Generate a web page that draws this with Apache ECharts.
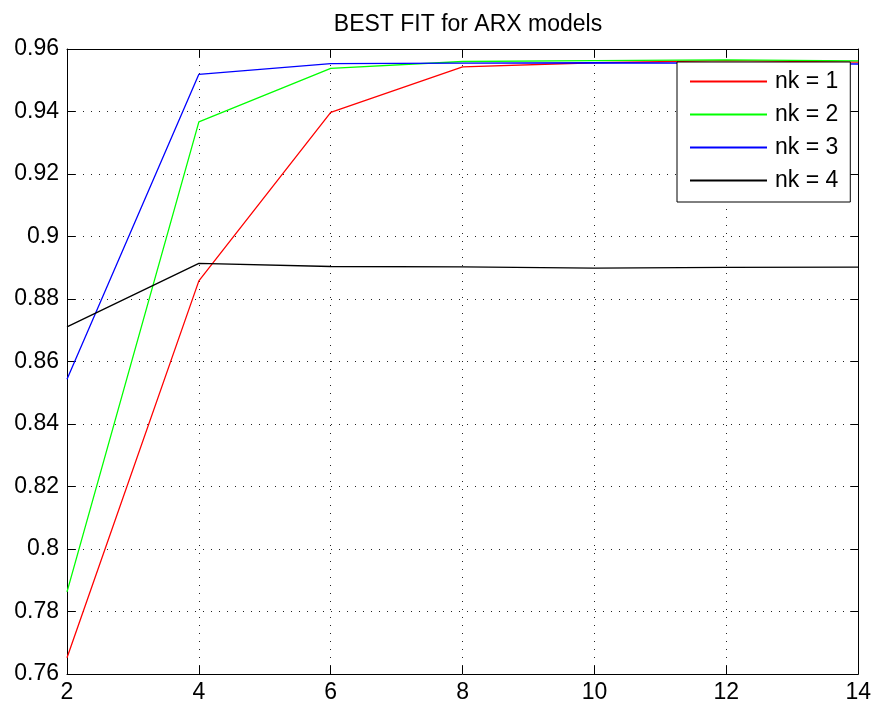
<!DOCTYPE html>
<html>
<head>
<meta charset="utf-8">
<title>BEST FIT for ARX models</title>
<script src="https://cdn.jsdelivr.net/npm/echarts@6/dist/echarts.min.js"></script>
<style>
  html, body { margin: 0; padding: 0; background: #fff; }
  #chart { width: 874px; height: 706px; }
</style>
</head>
<body>
<div id="chart"></div>
<script>
// model order (x) and best fit per delay nk
const orders = [2, 4, 6, 8, 10, 12, 14]
const nk1 = [0.7652, 0.8858, 0.9397, 0.9543, 0.9556, 0.9563, 0.9558]
const nk2 = [0.7863, 0.9367, 0.9538, 0.9560, 0.9563, 0.9565, 0.9562]
const nk3 = [0.8543, 0.9519, 0.9553, 0.9555, 0.9556, 0.9555, 0.9552]
const nk4 = [0.8711, 0.8914, 0.8904, 0.8903, 0.8899, 0.8901, 0.8902]
const seriesNames = ['nk = 1', 'nk = 2', 'nk = 3', 'nk = 4']
const seriesColors = ['#ff0000', '#00ff00', '#0000ff', '#000000']

const FONT = 'Liberation Sans, Arial, Helvetica, sans-serif'

const chart = echarts.init(document.getElementById('chart'))

function pairs(ys) {
  return orders.map((x, i) => [x, ys[i]])
}

// box axes (top / right) carry ticks only
const boxAxis = (pos) => ({
  type: 'value',
  position: pos,
  min: pos === 'top' ? 2 : 0.76,
  max: pos === 'top' ? 14 : 0.96,
  interval: pos === 'top' ? 2 : 0.02,
  axisLine: { show: true, onZero: false, lineStyle: { color: '#000', width: 1 } },
  axisTick: { show: true, inside: true, length: 8, lineStyle: { color: '#000' } },
  axisLabel: { show: false },
  splitLine: { show: false },
})

const grid = { color: '#222', width: 1, type: [1, 7] }

chart.setOption({
  animation: false,
  backgroundColor: '#fff',
  title: {
    text: 'BEST FIT for ARX models',
    left: 463,
    top: 8,
    textAlign: 'center',
    textStyle: { fontFamily: FONT, fontSize: 23, fontWeight: 'normal', color: '#000' },
  },
  grid: { left: 67, right: 14, top: 49, bottom: 32, containLabel: false },
  legend: {
    orient: 'vertical',
    left: 677,
    top: 62,
    width: 172,
    padding: [8, 12, 10, 13],
    itemGap: 10,
    itemWidth: 77,
    itemHeight: 2,
    icon: 'rect',
    backgroundColor: '#fff',
    borderColor: '#000',
    borderWidth: 1,
    borderRadius: 0,
    data: seriesNames,
    textStyle: { fontFamily: FONT, fontSize: 23, color: '#000', lineHeight: 23, padding: [0, 0, 0, 3] },
  },
  xAxis: [
    {
      type: 'value',
      min: 2,
      max: 14,
      interval: 2,
      axisLine: { show: true, onZero: false, lineStyle: { color: '#000', width: 1 } },
      axisTick: { show: true, inside: true, length: 8, lineStyle: { color: '#000' } },
      axisLabel: { margin: 7, fontFamily: FONT, fontSize: 23, color: '#000' },
      splitLine: { show: true, lineStyle: grid },
    },
    boxAxis('top'),
  ],
  yAxis: [
    {
      type: 'value',
      min: 0.76,
      max: 0.96,
      interval: 0.02,
      axisLine: { show: true, onZero: false, lineStyle: { color: '#000', width: 1 } },
      axisTick: { show: true, inside: true, length: 8, lineStyle: { color: '#000' } },
      axisLabel: {
        margin: 8,
        fontFamily: FONT,
        fontSize: 23,
        color: '#000',
        formatter: (v) => String(parseFloat(v.toFixed(2))),
      },
      splitLine: { show: true, lineStyle: grid },
    },
    boxAxis('right'),
  ],
  series: [nk1, nk2, nk3, nk4].map((ys, i) => ({
    name: seriesNames[i],
    type: 'line',
    xAxisIndex: 0,
    yAxisIndex: 0,
    data: pairs(ys),
    symbol: 'none',
    color: seriesColors[i],
    lineStyle: { color: seriesColors[i], width: 1.3 },
  })),
})
</script>
</body>
</html>
